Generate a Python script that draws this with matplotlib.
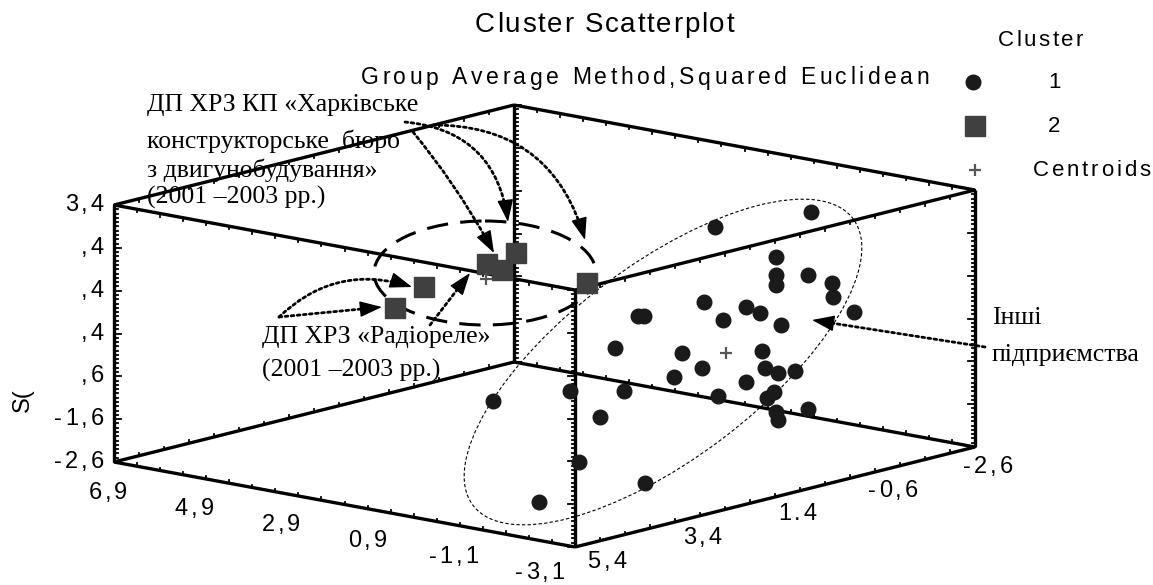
import numpy as np
import matplotlib.pyplot as plt
from matplotlib.patches import Ellipse
from matplotlib import font_manager, ft2font

# axis ranges of the cube (x runs 6.9 -> -3.1, y runs 5.4 -> -2.6, z runs -2.6 -> 3.4)
x_ticks = [6.9, 4.9, 2.9, 0.9, -1.1, -3.1]
x_labels = ["6,9", "4,9", "2,9", "0,9", "-1,1", "-3,1"]
y_ticks = [5.4, 3.4, 1.4, -0.6, -2.6]
y_labels = ["5,4", "3,4", "1.4", "-0,6", "-2,6"]
z_ticks = [-2.6, -1.6, -0.6, 0.4, 1.4, 2.4, 3.4]
z_labels = ["-2,6", "-1,6", ",6", ",4", ",4", ",4", "3,4"]

# projected positions of the cases (screen plane of the cube)
c1_x = [715, 811, 776, 776, 776, 808, 832, 833, 854, 704, 746, 760, 723, 781,
        638, 644, 615, 682, 762, 702, 674, 746, 765, 778, 795, 774, 767, 718,
        624, 570, 600, 808, 778, 776, 579, 645, 493, 539]
c1_y = [227, 212, 257, 275, 285, 275, 283, 297, 312, 302, 307, 313, 320, 325,
        316, 316, 348, 353, 351, 368, 377, 382, 368, 373, 371, 392, 398, 396,
        391, 391, 417, 409, 420, 412, 462, 483, 401, 502]
c2_x = [395, 424, 487, 502, 516, 587]
c2_y = [308, 287, 264, 270, 253, 283]
cent_x = [726, 486]
cent_y = [353, 279]

W, H = 1153, 585
fig = plt.figure(figsize=(W / 100, H / 100), dpi=100)
ax = fig.add_axes([0, 0, 1, 1])
ax.set_xlim(0, W)
ax.set_ylim(H, 0)
ax.axis('off')

# oblique projection used for the cube frame
B0 = np.array([114.0, 462.0])
UX = np.array([461.0, 85.0])
UY = np.array([400.0, -100.0])
UZ = np.array([0.0, -257.0])

def proj(x, y, z):
    u = (x_ticks[0] - x) / (x_ticks[0] - x_ticks[-1])
    v = (y_ticks[0] - y) / (y_ticks[0] - y_ticks[-1])
    w = (z - z_ticks[0]) / (z_ticks[-1] - z_ticks[0])
    return B0 + u * UX + v * UY + w * UZ

xr = (x_ticks[0], x_ticks[-1])
yr = (y_ticks[0], y_ticks[-1])
zr = (z_ticks[0], z_ticks[-1])

# 12 edges of the cube
for y in yr:
    for z in zr:
        p = np.array([proj(x, y, z) for x in xr])
        ax.plot(p[:, 0], p[:, 1], color='k', lw=2.4, solid_capstyle='butt')
for x in xr:
    for z in zr:
        p = np.array([proj(x, y, z) for y in yr])
        ax.plot(p[:, 0], p[:, 1], color='k', lw=2.4, solid_capstyle='butt')
for x in xr:
    for y in yr:
        p = np.array([proj(x, y, z) for z in zr])
        ax.plot(p[:, 0], p[:, 1], color='k', lw=2.4, solid_capstyle='butt')

# tick marks
def tick(p, d, ln):
    ax.plot([p[0], p[0] + d[0] * ln], [p[1], p[1] + d[1] * ln], color='k', lw=1.3)

for (x, y, side) in [(xr[0], yr[0], 1), (xr[0], yr[1], 1), (xr[1], yr[0], -1), (xr[1], yr[1], -1)]:
    zz = np.linspace(zr[0], zr[1], 61)
    for i, z in enumerate(zz):
        tick(proj(x, y, z), (side, 0), 7 if i % 10 == 0 else 3.5)
for y in yr:
    for z in zr:
        d = (0, -1) if z == zr[0] else (0, 1)
        for x in np.linspace(xr[0], xr[1], 21):
            tick(proj(x, y, z), d, 3)
for x in xr:
    for z in zr:
        d = (0, -1) if z == zr[0] else (0, 1)
        for y in np.linspace(yr[0], yr[1], 17):
            tick(proj(x, y, z), d, 3)

# sans text drawn letter by letter with extra tracking
try:
    SANS_NAME = 'Liberation Sans Narrow'
    SANS = font_manager.findfont(SANS_NAME, fallback_to_default=False)
except ValueError:
    SANS_NAME = 'Liberation Sans'
    SANS = font_manager.findfont(SANS_NAME)

def advances(s, size):
    f = ft2font.FT2Font(SANS)
    f.set_size(size, 100)
    return [f.load_char(ord(ch)).linearHoriAdvance / 65536 for ch in s]

def spaced(x, y, s, size, track, ha='left', color='k'):
    adv = advances(s, size)
    total = sum(adv) + track * (len(s) - 1)
    if ha == 'center':
        x = x - total / 2
    elif ha == 'right':
        x = x - total
    for ch, a in zip(s, adv):
        ax.text(x, y, ch, fontsize=size, family=SANS_NAME, color=color,
                ha='left', va='center')
        x += a + track

def spread(x0, x1, y, s, size):
    adv = advances(s, size)
    track = (x1 - x0 - sum(adv)) / (len(s) - 1)
    spaced(x0, y, s, size, track)

spread(475, 734, 25, "Cluster Scatterplot", 20)
spread(361, 929, 78, "Group Average Method,Squared Euclidean", 16.5)

for z, lab in zip(z_ticks, z_labels):
    p = proj(xr[0], yr[0], z)
    spaced(104, p[1], lab, 17, 3, ha='right')
for i, (x, lab) in enumerate(zip(x_ticks, x_labels)):
    u = i / (len(x_ticks) - 1)
    p = proj(x, yr[0], zr[0])
    spaced(p[0] - 6 - 29 * u, p[1] + 31 - 5 * u, lab, 17, 3, ha='center')
for i, (y, lab) in enumerate(zip(y_ticks, y_labels)):
    v = i / (len(y_ticks) - 1)
    p = proj(xr[1], y, zr[0])
    spaced(p[0] + 32 - 19 * v, p[1] + 15 + 5 * v, lab, 17, 3, ha='center')

ax.text(23, 400, "S(", fontsize=17, family=SANS_NAME, rotation=90,
        ha='center', va='center')

# cluster outlines
ax.add_patch(Ellipse((485, 273), 222, 104, fill=False, lw=2.2, ls=(0, (7, 4)), color='k'))
ax.add_patch(Ellipse((663, 362), 476, 194, angle=-37, fill=False, lw=0.8,
                     ls=(0, (3, 2)), color='k'))

# cases
ax.plot(c1_x, c1_y, 'o', ms=10.5, color='#1a1a1a', ls='none')
ax.plot(c2_x, c2_y, 's', ms=14.5, color='#404040', ls='none')
ax.plot(cent_x, cent_y, '+', ms=8, mew=1.6, color='#555555', ls='none')

# legend
spread(998, 1083, 40, "Cluster", 16)
ax.plot([973], [82], 'o', ms=10.5, color='#1a1a1a')
spaced(1048, 82, "1", 16, 0)
ax.plot([975], [126], 's', ms=14.5, color='#404040')
spaced(1048, 126, "2", 16, 0)
ax.plot([975], [170], '+', ms=8, mew=1.6, color='#555555')
spread(1033, 1150, 170, "Centroids", 16)

# annotations
serif = dict(fontsize=18.5, family='Liberation Serif', va='center', ha='left')
ax.text(147, 105, "ДП ХРЗ КП «Харківське", **serif)
ax.text(147, 141, "конструкторське  бюро", **serif)
ax.text(147, 170, "з двигунобудування»", **serif)
ax.text(147, 197, "(2001 –2003 рр.)", **serif)
ax.text(262, 337, "ДП ХРЗ «Радіореле»", **serif)
ax.text(262, 370, "(2001 –2003 рр.)", **serif)
ax.text(992, 318, "Інші", **serif)
ax.text(992, 355, "підприємства", **serif)

def arrow(p0, p1, rad):
    # dotted curve, then a solid head along the curve's end tangent
    ax.annotate('', xy=p1, xytext=p0,
                arrowprops=dict(arrowstyle='-', lw=2, ls=(0, (1, 1.2)), color='k',
                                shrinkA=0, shrinkB=10,
                                connectionstyle='arc3,rad=%s' % rad))
    p0 = np.array(p0, float)
    p1 = np.array(p1, float)
    c = (p0 + p1) / 2 + rad * np.array([-(p1[1] - p0[1]), p1[0] - p0[0]])
    d = (p1 - c) / np.hypot(*(p1 - c))
    ax.annotate('', xy=p1, xytext=p1 - 18 * d,
                arrowprops=dict(arrowstyle='-|>,head_length=0.7,head_width=0.25',
                                lw=1, color='k', mutation_scale=20,
                                shrinkA=0, shrinkB=0))

arrow((413, 132), (494, 253), -0.05)
arrow((405, 122), (508, 222), -0.4)
arrow((433, 125), (585, 240), -0.38)
arrow((279, 317), (412, 287), -0.3)
arrow((279, 317), (382, 307), 0)
arrow((430, 325), (470, 273), 0)
arrow((985, 347), (812, 320), 0)

plt.savefig('out.png', dpi=100)
